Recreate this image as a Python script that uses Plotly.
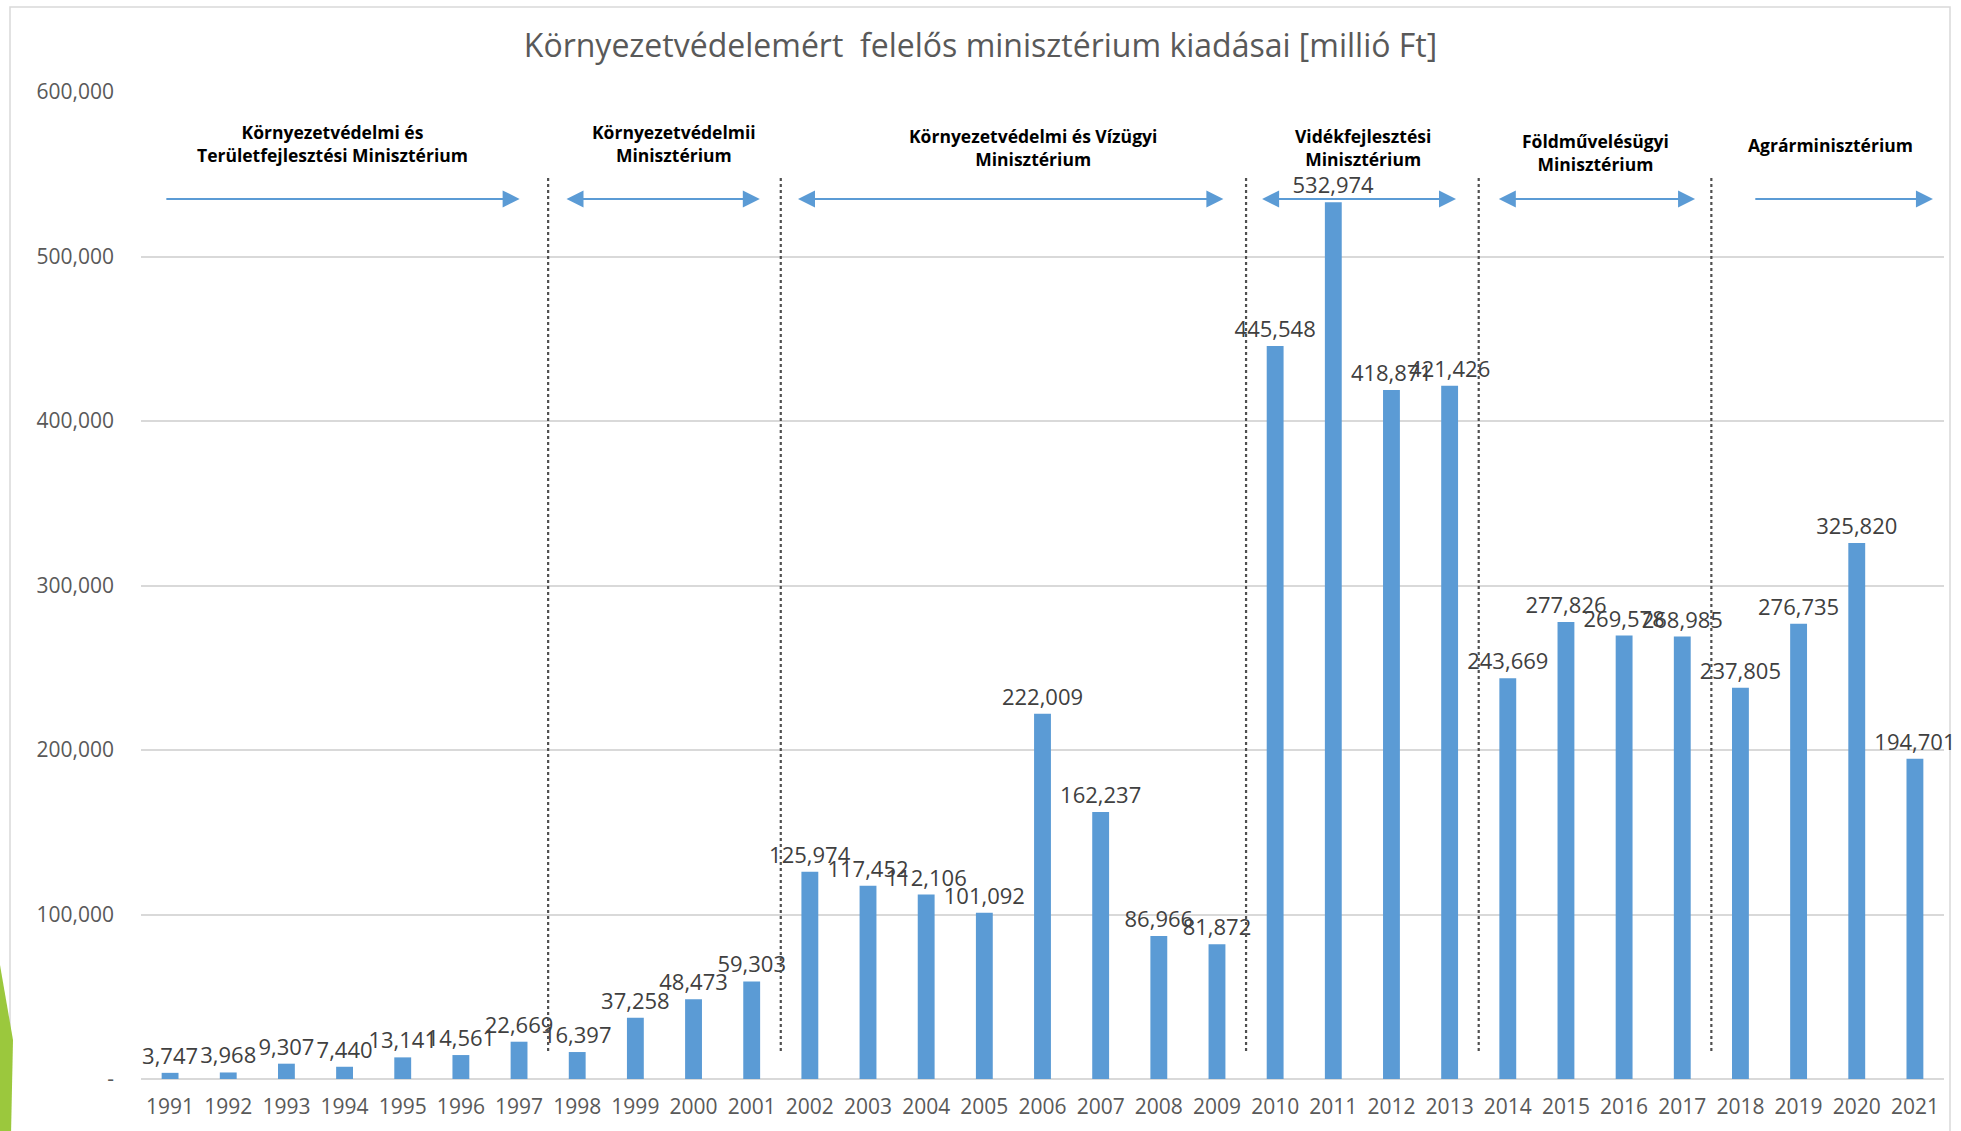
import plotly.graph_objects as go

years = list(range(1991, 2022))
values = [3747, 3968, 9307, 7440, 13141, 14561, 22669, 16397, 37258, 48473, 59303,
          125974, 117452, 112106, 101092, 222009, 162237, 86966, 81872,
          445548, 532974, 418871, 421426, 243669, 277826, 269578, 268985,
          237805, 276735, 325820, 194701]

y_tickvals = [0, 100000, 200000, 300000, 400000, 500000, 600000]
y_ticktext = ["-", "100,000", "200,000", "300,000", "400,000", "500,000", "600,000"]

title = "Környezetvédelemért  felelős minisztérium kiadásai [millió Ft]"

ministries = [
    "Környezetvédelmi és<br>Területfejlesztési Minisztérium",
    "Környezetvédelmii<br>Minisztérium",
    "Környezetvédelmi és Vízügyi<br>Minisztérium",
    "Vidékfejlesztési<br>Minisztérium",
    "Földművelésügyi<br>Minisztérium",
    "Agrárminisztérium",
]
ministry_start = [1991, 1998, 2002, 2010, 2014, 2018]
ministry_end = [1997, 2001, 2009, 2013, 2017, 2021]

# --- layout geometry (pixels) ---
W, H = 1961, 1131
L, R, T, B = 141, 17, 92, 52
PW, PH = W - L - R, H - T - B

def px(X):
    return (X - L) / PW

def py(Y):
    return (H - B - Y) / PH

BAR = "#5B9BD5"
ARROW = "#5B9BD5"
FONT = "Open Sans"

fig = go.Figure()
fig.add_trace(go.Bar(
    x=years, y=values, width=0.29,
    marker=dict(color=BAR, line=dict(width=0)),
    text=[f"{v:,}" for v in values], textposition="outside",
    textfont=dict(family=FONT, size=22, color="#404040"),
    constraintext="none", cliponaxis=False, hoverinfo="skip",
))

shapes = []
# frame
shapes.append(dict(type="rect", xref="paper", yref="paper",
                   x0=px(10), x1=px(1950), y0=py(1140), y1=py(7),
                   line=dict(color="#D9D9D9", width=1.5), layer="below"))
# green decoration
shapes.append(dict(type="path", xref="paper", yref="paper",
                   path=f"M {px(0)},{py(965)} L {px(13)},{py(1040)} L {px(11)},{py(1135)} L {px(0)},{py(1135)} Z",
                   fillcolor="#9BC83D", line=dict(width=0), layer="above"))

annotations = []
arrow_y = 535000
label_y = [569000, 569000, 566000, 566000, 563000, 568000]
arrow_ext = [(-0.09, 0.01), (-0.21, 0.14), (-0.23, 0.11), (-0.25, 0.11), (-0.18, 0.22), (0.23, 0.31)]
sides = ["end", "end+start", "end+start", "end+start", "end+start", "end"]
label_x = [1993.8, 1999.67, 2005.84, 2011.51, 2015.51, 2019.54]
for i, name in enumerate(ministries):
    s, e = ministry_start[i], ministry_end[i]
    x0 = s + arrow_ext[i][0]
    x1 = e + arrow_ext[i][1]
    annotations.append(dict(x=x1, y=arrow_y, ax=x0, ay=arrow_y, xref="x", yref="y",
                            axref="x", ayref="y", showarrow=True, arrowhead=2,
                            arrowsize=1.7, arrowwidth=2, arrowcolor=ARROW,
                            arrowside=sides[i], text=""))
    annotations.append(dict(x=label_x[i], y=label_y[i], xref="x", yref="y", showarrow=False,
                            text=f"<b>{name}</b>",
                            font=dict(family=FONT, size=17.5, color="#000000"),
                            align="center"))
    if i > 0:
        shapes.append(dict(type="line", xref="x", yref="y", x0=s - 0.5, x1=s - 0.5,
                           y0=17000, y1=548000,
                           line=dict(color="#505050", width=2.2, dash="dot")))

fig.update_layout(
    width=W, height=H,
    margin=dict(l=L, r=R, t=T, b=B),
    paper_bgcolor="white", plot_bgcolor="white",
    title=dict(text=title, x=0.5, xanchor="center", y=1 - 46 / H, yanchor="middle",
               font=dict(family=FONT, size=32, color="#595959")),
    showlegend=False,
    bargap=0.7,
    xaxis=dict(range=[1990.5, 2021.5], tickmode="array", tickvals=years,
               ticktext=[str(y) for y in years], showgrid=False, zeroline=False,
               showline=False, ticks="", ticklabelstandoff=13,
               tickfont=dict(family=FONT, size=21, color="#595959")),
    yaxis=dict(range=[0, 600000], tickmode="array", tickvals=y_tickvals,
               ticktext=y_ticktext, showgrid=True, gridcolor="#D9D9D9", gridwidth=1.5,
               zeroline=True, zerolinecolor="#D9D9D9", zerolinewidth=1.5,
               ticks="", ticklabelstandoff=26,
               tickfont=dict(family=FONT, size=21, color="#595959")),
    shapes=shapes, annotations=annotations,
)

fig.write_html("out.html", config={"displayModeBar": False},
               post_script="document.body.style.margin='0';")
